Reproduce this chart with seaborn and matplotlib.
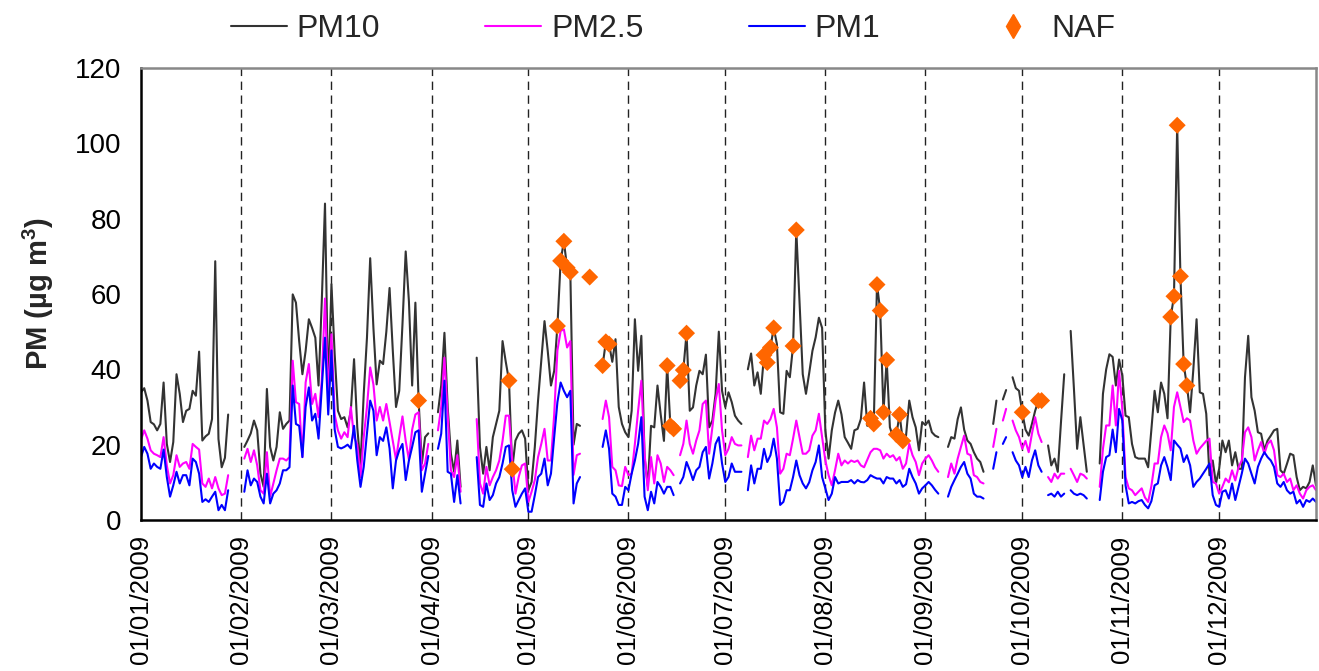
import numpy as np
import pandas as pd
import matplotlib
matplotlib.use("Agg")
import matplotlib.pyplot as plt
from matplotlib.lines import Line2D
import seaborn as sns

N = np.nan

# ---- x axis: day index in 2009 (0 = 01/01/2009) ----
month_starts = [0, 31, 59, 90, 120, 151, 181, 212, 243, 273, 304, 334]
tick_labels = ["01/01/2009", "01/02/2009", "01/03/2009", "01/04/2009",
               "01/05/2009", "01/06/2009", "01/07/2009", "01/08/2009",
               "01/09/2009", "01/10/2009", "01/11/2009", "01/12/2009"]

# ---- PM10 daily values (ug m-3) ----
pm10_jan = [33.9, 35, 31.7, 26, 25.4, 23.8, 25.5, 36.5, 20.2, 15.4,
            20.7, 38.7, 33.5, 26, 29, 29.5, 34.3, 33, 44.7, 21.1,
            22.2, 22.9, 26.8, 68.7, 21.5, 14, 16.5, 28, N, N, N]
pm10_feb = [N, 19.4, 21.1, 23, 26.4, 23.8, 12.3, 8.8, 34.8, 19.4,
            15.8, 19.4, 28.6, 24.2, 25.5, 26.4, 59.9, 57.7, 47.5, 38.7,
            44.9, 53.3, 51, 48.4, 35.7, 58, 84, 33.5]
pm10_mar = [62.6, 44, 29, 26.8, 27.3, 24.6, 29, 42.7, 24.6, 14.5,
            33.5, 48.4, 69.5, 51, 36, 42.3, 41.4, 50, 61.6, 45,
            30, 34.3, 52, 71.3, 58, 35.7, 57.7, 31.7, 15, 22, 23]
pm10_apr = [N, N, 28.6, 35.7, 49.7, 30, 17.6, 12.8, 21.1, 8.8,
            N, N, N, N, 43.1, 19.4, 12.3, 19.4, 13.2, 22,
            25.5, 29, 47.5, 42, 37, 13.5, 21.1, 22.9, 23.8, 21.6]
pm10_may = [7.9, 10.1, 19.4, 31.7, 42.3, 52.8, 44.9, 35.7, 39.6, 51.5,
            68.8, 74, 67, 65.8, 20, 25.5, 25, N, N, N,
            N, N, N, 41, 47.3, 46.7, 42, 48, 30, 25.5, 23.3]
pm10_jun = [22, 29, 53.3, 39.6, 48.9, 16.7, 9, 25, 24.6, 35.7,
            28, 21, 41, 25, 24.2, N, 37, 39.8, 49.6, 29,
            29.9, 35.7, 39.6, 38.7, 43.9, 24.6, 26.4, 33.5, 50, 34.3]
pm10_jul = [30, 33.9, 31.3, 27.7, 26.4, 25.5, N, 40, 44.2, 35.7,
            39.2, 33.5, 43.8, 41.8, 45.8, 51, 46.7, 28.6, 28.2, 39.6,
            37.9, 46.2, 77, 58, 38.7, 33.5, 39, 44.9, 48.5, 53.7, 51]
pm10_aug = [23.8, 16.3, 23.8, 28.5, 31.7, 28, 22, 20.5, 18.9, 23.8,
            24.2, 26.8, 36.5, 25, 27, 25.5, 62.5, 55.6, 28.6, 42.5,
            24.6, 22, 22.7, 28, 21, 22.4, 31.7, 27.3, 24.6, 18.5, 26]
pm10_sep = [25.2, 26.4, 23.3, 22.4, 22, N, N, 19.4, 22, 21.6,
            26.8, 29.9, 24, 21.1, 20.2, 18, 16.3, 15.4, 12.8, N,
            N, 25.5, 31.7, N, 32, 34.5, N, 37.9, 35, 34.3]
pm10_oct = [28.6, 24, 22.4, 25.5, 29, 31.7, 31.7, N, 19.8, 14.5,
            16.3, 12.8, 26, 38.7, N, 50.2, 35, 18.9, 27.3, 20,
            12.8, N, N, N, 15, 33.5, 40, 44, 43.3, 35.7, 42.6]
pm10_nov = [38.3, 27.7, 27.3, 20.2, 16.7, 16.3, 16.3, 16.3, 14, 24,
            34.3, 28.6, 36.5, 33.5, 27, 53.9, 59.4, 104.8, 64.7, 41.4,
            35.7, 28.6, 40, 53.3, 33.9, 33.5, 28.2, 11.9, 15.8, 9.7]
pm10_dec = [13.6, 21.1, 18, 21.1, 14.5, 18, 13.6, 13.6, 37.9, 48.9,
            32.6, 29, 23.3, 22.9, 18.5, 21.1, 22.4, 23.8, 24.2, 13.2,
            12.3, 14.9, 17.6, 17.2, 11.4, 7.9, 8.8, 8.4, 10.1, 14.5, 9.2]

# ---- PM2.5 daily values ----
pm25_jan = [21.3, 23.8, 21.6, 18.5, 17.6, 17.2, 16.7, 22, 14.5, 9.7,
            11.9, 17.2, 14.1, 15, 15.4, 13.6, 20.2, 19.4, 18.7, 9.7,
            8.8, 11, 8.4, 11.4, 8.4, 6.6, 7, 11.9, N, N, N]
pm25_feb = [N, 16.3, 18.9, 15.4, 18.5, 14.5, 7.9, 7, 18, 6.2,
            9.7, 13.2, 16.3, 16.3, 15.8, 16.7, 42.3, 31.3, 30.8, 16.7,
            36.5, 41.4, 30.8, 33.5, 27.3, 37, 58.8, 33]
pm25_mar = [49.3, 28, 23.8, 21.6, 23.3, 22, 30, 22, 20, 11.4,
            22, 30, 40.5, 36, 26.4, 30, 26.4, 30.8, 26, 21,
            16, 22, 27.5, 21, 16, 24, 28, 28.6, 13.2, 15, 20.2]
pm25_apr = [N, N, 23.8, 30, 43.1, 28, 13.2, 11.4, 17.2, 7.5,
            N, N, N, N, 26.8, 9.7, 7, 14.1, 9.2, 11.4,
            13.2, 15.8, 21, 27.7, 27.7, 15.8, 7, 11.4, 14.5, 15]
pm25_may = [4.8, 7.5, 10.6, 16.7, 20.2, 24.2, 15.8, 15.8, 28, 45,
            50.2, 50.6, 45.8, 47.5, 12, 17.2, 17.6, N, N, N,
            N, N, N, 26.8, 31.7, 27.3, 14.1, 13.2, 9.2, 9, 14.1]
pm25_jun = [11.9, 12.3, 20.2, 29, 37, 17.6, 7.9, 16.7, 9.7, 17.2,
            15, 10.1, 14.1, 13.2, 11.9, N, 17.2, 20.2, 26.4, 20.2,
            17.6, 21.1, 23.8, 30.8, 31.7, 17.6, 24.6, 31.7, 36.1, 23.8]
pm25_jul = [17.2, 18.9, 22, 20.2, 19.8, 19.8, N, 16.7, 22.4, 18.5,
            21.6, 21.6, 26.4, 25.5, 26.8, 29.5, 24.6, 12.3, 13.6, 17.6,
            17.2, 21.6, 26.4, 22, 17.6, 17.6, 18.5, 22.4, 23.8, 28.2, 22]
pm25_aug = [15.8, 11.9, 9.2, 13.2, 17.6, 14.5, 15.8, 15, 15.8, 15.4,
            15.8, 14.5, 14, 16, 18, 18.9, 18.9, 18.5, 16.3, 17.6,
            16.7, 17.2, 15.8, 16.7, 13.6, 15, 20.2, 17.2, 15.4, 11.9, 15]
pm25_sep = [16.3, 17.2, 15.8, 14, 12.8, N, N, 11.4, 15, 12.3,
            16.3, 19.4, 22.4, 17.6, 17.2, 11.9, 11.4, 10.1, 9.7, N,
            N, 19.4, 24.2, N, 26.4, 29.5, N, 26.4, 23.8, 22]
pm25_oct = [18.9, 21, 18, 22.9, 27.3, 22.9, 20.7, N, 11.4, 10.1,
            12.3, 11, 12.3, 12.3, N, 13.6, 11.9, 10.1, 12.3, 11.9,
            11, N, N, N, 8.8, 18.9, 25.1, 25.1, 35.7, 25.1, 39.6]
pm25_nov = [29.5, 11.4, 8.4, 7.9, 6.6, 7.5, 8.4, 6, 4.8, 9,
            15, 15, 22, 25.1, 23, 18.5, 30, 33.9, 30, 26,
            27, 26.4, 21.1, 17.6, 19, 20, 21, 21.6, 10.1, 9.7]
pm25_dec = [7, 8.8, 11, 10, 13.2, 10.5, 14, 15.8, 23.3, 24.6,
            22, 15.8, 18.5, 20.7, 17.6, 20.2, 21.1, 18.5, 11.9, 11.4,
            12.3, 10.1, 11, 7.9, 9.2, 7, 5.7, 7.9, 8.8, 9.2, 7.9]

# ---- PM1 daily values ----
pm1_jan = [16.7, 19.4, 17.6, 13.6, 15, 14.1, 13.6, 18.7, 11.4, 6.2,
           9.2, 12.8, 9.7, 11.9, 11.9, 9.2, 16.3, 15.4, 12.3, 4.8,
           5.5, 4.8, 6.2, 7.5, 2.6, 4, 2.6, 7.9, N, N, N]
pm1_feb = [N, 7.5, 13.2, 9.2, 11, 10.1, 6.2, 4.4, 12.3, 4.4,
           7, 7.9, 9.7, 13.2, 13.2, 14, 35.7, 25.5, 25, 16.7,
           30, 35.2, 26.4, 28.2, 21.6, 35, 48.4, 28]
pm1_mar = [45, 24, 19.4, 19, 19.4, 20, 19, 25, 15.8, 8.8,
           14.1, 23, 31.7, 29, 17.2, 22, 21, 24.6, 19, 8.4,
           15.8, 18.5, 20.2, 10.6, 15.8, 19.4, 23.3, 23.8, 7.5, 12.3, 17]
pm1_apr = [N, N, 18.9, 22.9, 37, 12.8, 12.3, 4.8, 11.9, 4.4,
           N, N, N, N, 16.7, 4, 3.5, 9.7, 5.3, 6.6,
           9.7, 11.4, 15, 19.4, 19.8, 7.9, 3.5, 5.3, 7, 8.4]
pm1_may = [2.2, 2.2, 6.6, 11.4, 12.3, 16.3, 9.2, 12.3, 22, 31.3,
           36.5, 34.3, 32.6, 34.3, 4.4, 9.7, 11.4, N, N, N,
           N, N, N, 19.4, 23.8, 18.9, 7, 6.2, 4, 4, 8.8]
pm1_jun = [7.9, 12.3, 15.8, 20.2, 27.3, 6.2, 2.6, 7.5, 4.4, 10.1,
           8.8, 7, 8.8, 8.8, 6.6, N, 9.7, 11.4, 15.4, 13.2,
           10.6, 13.2, 14.1, 18, 19.4, 11, 15, 20.2, 22, 15]
pm1_jul = [10.1, 11.4, 15, 12.8, 12.8, 12.8, N, 7.9, 14.5, 9.7,
           13.6, 13.6, 18.9, 15.4, 17.2, 21.6, 16.3, 4, 4.8, 7.9,
           7.9, 11.4, 15.8, 11.9, 9.7, 8.4, 10, 13.2, 15.4, 19.8, 11.4]
pm1_aug = [8.4, 5.3, 7, 11.4, 9.7, 10.1, 10.1, 10.1, 10.6, 9.7,
           10.6, 10.1, 10, 10.6, 11.9, 11.4, 11, 11, 9.7, 11.4,
           11, 11, 9.7, 10.6, 8.8, 9.5, 13.6, 11.4, 9.7, 7, 8.4]
pm1_sep = [9.2, 10.1, 9.2, 8, 7, N, N, 6.2, 8.8, 10.6,
           12.3, 14.1, 15.4, 12.3, 11, 7, 6.2, 6.2, 5.7, N,
           N, 13.6, 18, N, 20.2, 22, N, 18, 15.8, 14.5]
pm1_oct = [11.4, 14.1, 11.4, 15.8, 18.5, 14.5, 12.8, N, 6.6, 7,
           6.2, 7.5, 6.2, 7, N, 7.9, 7, 6.6, 7, 6.6,
           5.7, N, N, N, 5.3, 12.8, 16.7, 17.2, 24, 18, 29.5]
pm1_nov = [26.4, 9.2, 4.4, 4.8, 4.4, 5, 5.3, 4, 3.1, 5,
           9.2, 9.7, 14.5, 16.7, 14, 10.6, 21.1, 20, 19, 15.4,
           17.2, 14.5, 8.8, 10.1, 11, 12.3, 13.6, 15, 6.6, 4]
pm1_dec = [3.5, 7.5, 7.9, 5.7, 9.7, 5.3, 8.8, 12.3, 16.3, 15,
           12.3, 9.7, 14.1, 16.3, 18, 16.7, 15.8, 14.1, 9.7, 8.8,
           10.1, 7.9, 7, 7.5, 4.4, 5.3, 3.5, 5.3, 4.8, 5.7, 4.8]

# ---- NAF (North African dust) days: day index and PM10 value ----
naf_day = [86, 114, 115, 129, 130, 131, 132, 133, 139, 143, 144, 145,
           163, 164, 165, 167, 168, 169, 193, 194, 195, 196, 202, 203,
           226, 227, 228, 229, 230, 231, 234, 235, 236, 273, 278, 279,
           319, 320, 321, 322, 323, 324]
naf_val = [31.7, 37, 13.5, 51.5, 68.8, 74, 67, 65.8, 64.5, 41, 47.3, 46.7,
           41, 25, 24.2, 37, 39.8, 49.6, 43.8, 41.8, 45.8, 51, 46.2, 77,
           27, 25.5, 62.5, 55.6, 28.6, 42.5, 22.7, 28, 21, 28.6, 31.7, 31.7,
           53.9, 59.4, 104.8, 64.7, 41.4, 35.7]

pm10 = (pm10_jan + pm10_feb + pm10_mar + pm10_apr + pm10_may + pm10_jun +
        pm10_jul + pm10_aug + pm10_sep + pm10_oct + pm10_nov + pm10_dec)
pm25 = (pm25_jan + pm25_feb + pm25_mar + pm25_apr + pm25_may + pm25_jun +
        pm25_jul + pm25_aug + pm25_sep + pm25_oct + pm25_nov + pm25_dec)
pm1 = (pm1_jan + pm1_feb + pm1_mar + pm1_apr + pm1_may + pm1_jun +
       pm1_jul + pm1_aug + pm1_sep + pm1_oct + pm1_nov + pm1_dec)
for s in (pm10, pm25, pm1):
    assert len(s) == 365, len(s)

days = np.arange(365)


def long_frame(values):
    v = np.asarray(values, dtype=float)
    valid = ~np.isnan(v)
    start = valid & ~np.concatenate([[False], valid[:-1]])
    seg = np.cumsum(start)
    df = pd.DataFrame({"day": days, "value": v, "seg": seg})
    return df[valid]


sns.set_style("white")
plt.rcParams["font.family"] = ["Liberation Sans", "DejaVu Sans"]
plt.rcParams["mathtext.fontset"] = "custom"
plt.rcParams["mathtext.rm"] = "Liberation Sans"
plt.rcParams["mathtext.bf"] = "Liberation Sans:bold"

fig = plt.figure(figsize=(13.19, 6.71), dpi=100)
ax = fig.add_axes([141 / 1319, 1 - 520 / 671, 1175 / 1319, 452 / 671])

series = [("PM10", pm10, "#333333"), ("PM2.5", pm25, "#FF00FF"), ("PM1", pm1, "#0000FF")]
for name, vals, col in series:
    sns.lineplot(data=long_frame(vals), x="day", y="value", units="seg",
                 estimator=None, color=col, linewidth=1.5, ax=ax, legend=False)

sns.scatterplot(x=naf_day, y=naf_val, marker="D", s=75, color="#FF6600",
                edgecolor="none", linewidth=0, ax=ax, zorder=5, legend=False)

for d in month_starts[1:]:
    ax.axvline(d, color="#222222", linewidth=1.0, linestyle=(0, (6, 4)), zorder=0)

ax.set_xlim(0, 364)
ax.set_ylim(0, 120)
ax.set_yticks(range(0, 121, 20))
ax.set_xticks(month_starts)
ax.set_xticklabels(tick_labels, rotation=90, va="top", ha="center")
ax.tick_params(axis="both", labelsize=20, direction="out", length=8, width=1.2,
               colors="black", pad=4)
ax.tick_params(axis="x", labelsize=18.5, pad=3)
ax.tick_params(axis="y", pad=6)
ax.set_xlabel("")
ax.set_ylabel(r"PM (µg m$\mathbf{^{3}}$)", fontsize=21, fontweight="bold", labelpad=14)

for side in ("left", "bottom"):
    ax.spines[side].set_color("black")
    ax.spines[side].set_linewidth(1.8)
for side in ("top", "right"):
    ax.spines[side].set_color("#888888")
    ax.spines[side].set_linewidth(1.8)

handles = [Line2D([], [], color="#333333", lw=1.5),
           Line2D([], [], color="#FF00FF", lw=1.5),
           Line2D([], [], color="#0000FF", lw=1.5),
           Line2D([], [], color="#FF6600", marker="d", linestyle="none", markersize=12)]
fig.legend(handles, ["PM10", "PM2.5", "PM1", "NAF"], ncol=4, frameon=False,
           loc="center", bbox_to_anchor=(673 / 1319, 1 - 29 / 671),
           fontsize=23, handlelength=1.75, handletextpad=0.3, columnspacing=3.3)

fig.savefig("out.png", dpi=100)
